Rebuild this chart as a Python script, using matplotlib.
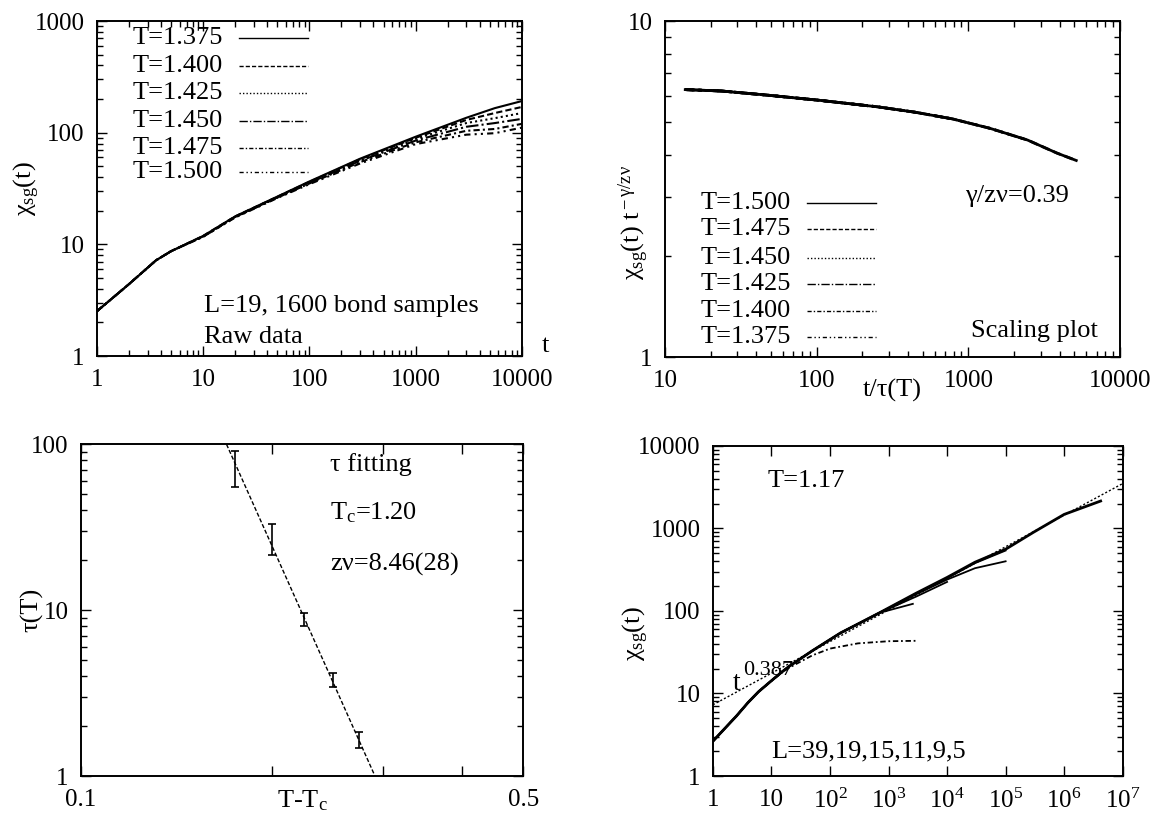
import matplotlib
matplotlib.use("Agg")
import matplotlib.pyplot as plt
import matplotlib.ticker as mticker

plt.rcParams["font.family"] = ["Liberation Serif", "DejaVu Serif"]
plt.rcParams["mathtext.fontset"] = "custom"
plt.rcParams["mathtext.rm"] = "Liberation Serif"
plt.rcParams["mathtext.it"] = "Liberation Serif:italic"

# ---------------- data ----------------
# (a) raw data, L=19
TEMPS = ["1.375", "1.400", "1.425", "1.450", "1.475", "1.500"]
T_RAW = [1, 2, 3.6, 5, 10, 20, 50, 100, 300, 1000, 3000, 5570, 10000]
CHI_RAW = {
    "1.375": [2.52, 4.4, 7.2, 8.7, 11.9, 17.8, 26.8, 36.6, 58.5, 92, 136, 166, 192],
    "1.400": [2.52, 4.4, 7.2, 8.7, 11.9, 17.8, 26.7, 36.3, 57.8, 90, 130, 150, 170],
    "1.425": [2.52, 4.4, 7.2, 8.7, 11.8, 17.7, 26.6, 36.0, 57.0, 88, 122, 135, 150],
    "1.450": [2.52, 4.4, 7.2, 8.7, 11.8, 17.6, 26.4, 35.6, 56.0, 85, 113, 122, 133],
    "1.475": [2.52, 4.4, 7.2, 8.7, 11.7, 17.5, 26.2, 35.1, 54.5, 82, 104, 108, 120],
    "1.500": [2.52, 4.4, 7.2, 8.7, 11.7, 17.4, 26.0, 34.6, 53.0, 79, 96, 99, 111],
}

# (b) scaling plot: master curve, and how far each temperature reaches
X_SCALED = [13.6, 23.6, 46.6, 103, 254, 446, 786, 1388, 2452, 3837, 5140]
Y_SCALED = [6.26, 6.20, 6.03, 5.82, 5.56, 5.36, 5.12, 4.80, 4.43, 4.05, 3.85]
X_END = {"1.500": 5140, "1.475": 5140, "1.450": 2630, "1.425": 1140,
         "1.400": 370, "1.375": 135}

# (c) tau fitting
DT = [0.175, 0.200, 0.225, 0.250, 0.275]
TAU = [74, 27.4, 8.8, 3.83, 1.64]
TAU_HI = [91, 33, 9.66, 4.2, 1.84]
TAU_LO = [55, 21.5, 8.03, 3.44, 1.48]
FIT_DT = [0.1698, 0.2914]
FIT_TAU = [100, 1]

# (d) T=1.17, several sizes
SIZES = ["39", "19", "15", "11", "9", "5"]
T_BASE = [1, 1.5, 2.5, 4, 6, 10, 15, 20, 50, 150, 700]
CHI_BASE = [2.64, 3.6, 5.3, 7.8, 10.5, 14.3, 18.2, 21.3, 33, 54, 95]
T_TAIL = {
    "39": [3000, 1e4, 3e4, 1e5, 3e5, 1e6, 4.2e6],
    "19": [3000, 1e4, 3e4, 1e5],
    "15": [3000, 1e4, 3e4, 1e5],
    "11": [3000, 1e4],
    "9": [2600],
    "5": [],
}
CHI_TAIL = {
    "39": [165, 255, 390, 560, 900, 1480, 2150],
    "19": [163, 250, 380, 540],
    "15": [160, 240, 330, 400],
    "11": [150, 225],
    "9": [122],
    "5": [],
}
# L=5 leaves the common curve early and saturates
T_L5 = [1, 1.5, 2.5, 4, 6, 10, 15, 20, 50, 100, 300, 1000, 3000]
CHI_L5 = [2.64, 3.6, 5.3, 7.8, 10.5, 14.2, 17.8, 20.5, 29, 35, 40.5, 43, 43.5]
FIT4_T = [1, 1e7]
FIT4_CHI = [7.3, 3500]

# ---------------- styling ----------------
DASHES = [(None, None), (3, 1.5), (1, 1.5), (6, 1.5, 1, 1.5), (3, 1.5, 1, 1.5),
          (3, 2, 1, 2, 1, 2)]
FS = 19
TFS = 18


def style(ax):
    ax.tick_params(which="both", direction="in", top=True, right=True,
                   labelsize=TFS, width=1.0)
    ax.tick_params(which="major", length=7, pad=9)
    ax.tick_params(which="minor", length=4)
    ax.xaxis.set_minor_formatter(mticker.NullFormatter())
    ax.yaxis.set_minor_formatter(mticker.NullFormatter())
    for s in ax.spines.values():
        s.set_linewidth(1.4)


def draw_key(ax, labels, xt, x0, x1, ys):
    for i, (lab, y) in enumerate(zip(labels, ys)):
        ax.text(xt, y, "T=" + lab, transform=ax.transAxes, ha="right",
                va="center", fontsize=FS)
        ln, = ax.plot([x0, x1], [y, y], transform=ax.transAxes, color="black",
                      lw=1.0)
        if DASHES[i][0] is not None:
            ln.set_dashes(DASHES[i])


fig = plt.figure(figsize=(11.64, 8.19), dpi=100)

# ---- panel (a)
ax1 = fig.add_axes([0.0833, 0.5653, 0.365, 0.409])
for i, T in enumerate(TEMPS):
    ln, = ax1.plot(T_RAW, CHI_RAW[T], color="black", lw=1.5)
    if DASHES[i][0] is not None:
        ln.set_dashes(DASHES[i])
ax1.set_xscale("log")
ax1.set_yscale("log")
ax1.set_xlim(1, 10000)
ax1.set_ylim(1, 1000)
ax1.set_xticks([1, 10, 100, 1000, 10000])
ax1.set_xticklabels(["1", "10", "100", "1000", "10000"])
ax1.set_yticks([1, 10, 100, 1000])
ax1.set_yticklabels(["1", "10", "100", "1000"])
style(ax1)
ax1.set_ylabel(r"χ$_{\rm sg}$(t)", fontsize=FS)
ax1.yaxis.set_label_coords(-0.13, 0.5)
ax1.text(1.055, 0.03, "t", transform=ax1.transAxes, fontsize=FS,
         ha="center", va="center")
draw_key(ax1, TEMPS, 0.296, 0.334, 0.496,
         [0.948, 0.865, 0.784, 0.701, 0.622, 0.55])
ax1.text(0.252, 0.149, "L=19, 1600 bond samples", transform=ax1.transAxes,
         fontsize=FS, va="center")
ax1.text(0.252, 0.058, "Raw data", transform=ax1.transAxes, fontsize=FS,
         va="center")

# ---- panel (b)
ax2 = fig.add_axes([0.5713, 0.564, 0.391, 0.410])
for i, T in enumerate(TEMPS[::-1]):
    xs = [x for x in X_SCALED if x <= X_END[T]]
    ys = Y_SCALED[:len(xs)]
    ln, = ax2.plot(xs, ys, color="black", lw=2.0)
    if DASHES[i][0] is not None:
        ln.set_dashes(DASHES[i])
ax2.set_xscale("log")
ax2.set_yscale("log")
ax2.set_xlim(10, 10000)
ax2.set_ylim(1, 10)
ax2.set_xticks([10, 100, 1000, 10000])
ax2.set_xticklabels(["10", "100", "1000", "10000"])
ax2.set_yticks([1, 10])
ax2.set_yticklabels(["1", "10"])
style(ax2)
ax2.set_ylabel(r"χ$_{\rm sg}$(t) t$^{\rm -γ/zν}$", fontsize=FS)
ax2.yaxis.set_label_coords(-0.03, 0.40)
ax2.text(0.5, -0.1, "t/τ(T)", transform=ax2.transAxes, fontsize=FS,
         ha="center", va="center")
draw_key(ax2, TEMPS[::-1], 0.276, 0.313, 0.464,
         [0.459, 0.380, 0.296, 0.217, 0.138, 0.059])
ax2.text(0.66, 0.479, "γ/zν=0.39", transform=ax2.transAxes, fontsize=FS,
         va="center")
ax2.text(0.673, 0.079, "Scaling plot", transform=ax2.transAxes, fontsize=FS,
         va="center")

# ---- panel (c)
ax3 = fig.add_axes([0.0696, 0.0525, 0.380, 0.405])
yerr = [[t - lo for t, lo in zip(TAU, TAU_LO)],
        [hi - t for t, hi in zip(TAU, TAU_HI)]]
ax3.errorbar(DT, TAU, yerr=yerr, fmt="none", ecolor="black", elinewidth=1.2,
             capsize=3, capthick=1.2)
ax3.plot(FIT_DT, FIT_TAU, color="black", lw=1.0, dashes=(3, 1.5))
ax3.set_xscale("log")
ax3.set_yscale("log")
ax3.set_xlim(0.1, 0.5)
ax3.set_ylim(1, 100)
ax3.set_xticks([0.1, 0.2, 0.3, 0.4, 0.5])
ax3.set_xticklabels(["0.1", "", "", "", "0.5"])
ax3.xaxis.set_minor_locator(mticker.NullLocator())
ax3.set_yticks([1, 10, 100])
ax3.set_yticklabels(["1", "10", "100"])
style(ax3)
ax3.set_ylabel("τ(T)", fontsize=FS)
ax3.yaxis.set_label_coords(-0.085, 0.5)
ax3.text(0.5, -0.075, r"T-T$_{\rm c}$", transform=ax3.transAxes, fontsize=FS,
         ha="center", va="center")
ax3.text(0.563, 0.94, "τ fitting", transform=ax3.transAxes, fontsize=FS,
         va="center")
ax3.text(0.563, 0.794, r"T$_{\rm c}$=1.20", transform=ax3.transAxes,
         fontsize=FS, va="center")
ax3.text(0.563, 0.638, "zν=8.46(28)", transform=ax3.transAxes, fontsize=FS,
         va="center")

# ---- panel (d)
ax4 = fig.add_axes([0.6125, 0.0525, 0.352, 0.403])
for L in SIZES:
    if L == "5":
        ln, = ax4.plot(T_L5, CHI_L5, color="black", lw=1.3)
        ln.set_dashes((3, 1.5, 1, 1.5))
        continue
    ax4.plot(T_BASE + T_TAIL[L], CHI_BASE + CHI_TAIL[L], color="black",
             lw=2.0 if L == "39" else 1.3)
ax4.plot(FIT4_T, FIT4_CHI, color="black", lw=1.0, dashes=(1.5, 1.5))
ax4.set_xscale("log")
ax4.set_yscale("log")
ax4.set_xlim(1, 1e7)
ax4.set_ylim(1, 10000)
ax4.set_xticks([1, 10, 1e2, 1e3, 1e4, 1e5, 1e6, 1e7])
ax4.set_xticklabels(["1", "10"] + [r"10$^{\rm %d}$" % k for k in range(2, 8)])
ax4.set_yticks([1, 10, 100, 1000, 10000])
ax4.set_yticklabels(["1", "10", "100", "1000", "10000"])
style(ax4)
ax4.set_ylabel(r"χ$_{\rm sg}$(t)", fontsize=FS)
ax4.yaxis.set_label_coords(-0.15, 0.43)
ax4.text(0.133, 0.893, "T=1.17", transform=ax4.transAxes, fontsize=FS,
         va="center")
ax4.text(0.143, 0.075, "L=39,19,15,11,9,5", transform=ax4.transAxes,
         fontsize=FS, va="center")
ax4.text(0.049, 0.262, "t", transform=ax4.transAxes, fontsize=FS + 1,
         va="baseline")
ax4.text(0.073, 0.305, "0.387", transform=ax4.transAxes, fontsize=16,
         va="baseline")

fig.savefig("out.png", dpi=100)
